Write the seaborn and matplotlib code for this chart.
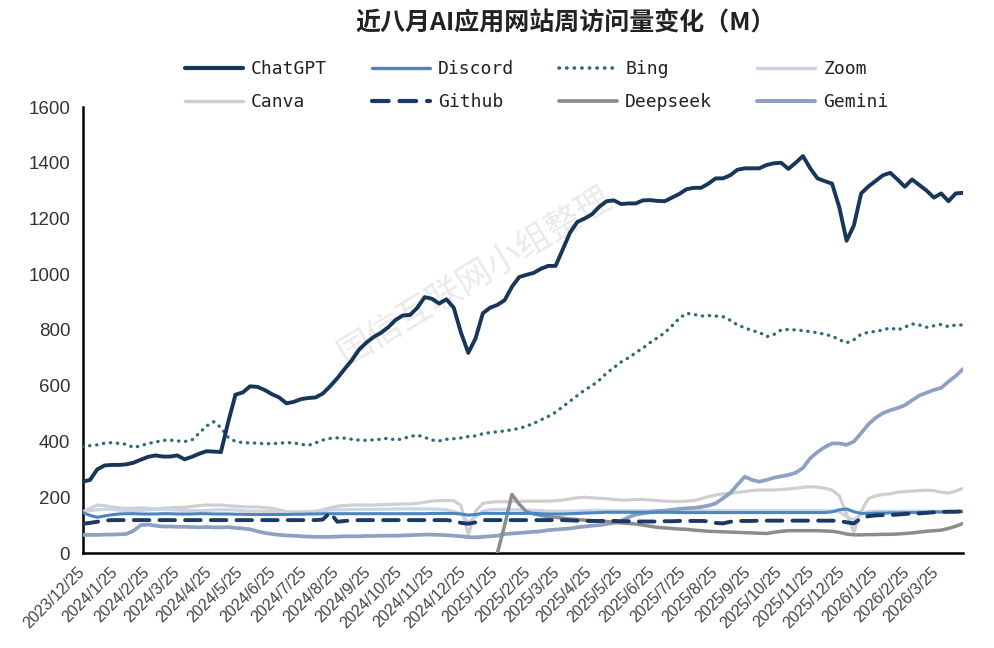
import numpy as np
import pandas as pd
import matplotlib
matplotlib.use('Agg')
import matplotlib.pyplot as plt
import matplotlib.transforms as mtransforms
import seaborn as sns
from matplotlib.lines import Line2D

# ---------------- data ----------------
start_date = '2023-12-25'   # weekly observations
tick_labels = ['2023/12/25', '2024/1/25', '2024/2/25', '2024/3/25', '2024/4/25', '2024/5/25',
               '2024/6/25', '2024/7/25', '2024/8/25', '2024/9/25', '2024/10/25', '2024/11/25',
               '2024/12/25', '2025/1/25', '2025/2/25', '2025/3/25', '2025/4/25', '2025/5/25',
               '2025/6/25', '2025/7/25', '2025/8/25', '2025/9/25', '2025/10/25', '2025/11/25',
               '2025/12/25', '2026/1/25', '2026/2/25', '2026/3/25']

chatgpt = [256, 262, 300, 314, 316, 316, 318, 324, 335, 345,
           350, 346, 346, 350, 336, 345, 356, 365, 364, 362,
           470, 568, 576, 598, 596, 585, 570, 558, 537, 542,
           552, 556, 558, 572, 598, 627, 660, 692, 730, 755,
           775, 790, 810, 836, 852, 854, 880, 918, 912, 895,
           910, 880, 790, 718, 770, 860, 880, 890, 907, 955,
           990, 998, 1005, 1020, 1030, 1030, 1090, 1150, 1188, 1200,
           1215, 1242, 1262, 1265, 1252, 1254, 1254, 1265, 1266, 1263,
           1262, 1275, 1288, 1305, 1310, 1310, 1325, 1344, 1344, 1355,
           1375, 1380, 1380, 1380, 1392, 1398, 1400, 1378, 1400, 1424,
           1380, 1344, 1334, 1325, 1240, 1120, 1175, 1290, 1315, 1335,
           1355, 1364, 1340, 1314, 1340, 1320, 1300, 1275, 1290, 1262,
           1290, 1292]

bing = [381, 385, 388, 394, 396, 393, 390, 378, 385, 393,
        398, 404, 405, 402, 400, 405, 430, 455, 471, 450,
        415, 400, 396, 395, 394, 392, 392, 394, 396, 395,
        390, 386, 395, 405, 411, 413, 412, 408, 405, 404,
        406, 408, 412, 405, 410, 418, 423, 415, 405, 402,
        408, 410, 413, 418, 420, 428, 432, 435, 438, 442,
        447, 455, 465, 478, 490, 505, 525, 545, 565, 585,
        600, 620, 645, 665, 685, 700, 718, 735, 755, 772,
        790, 815, 842, 860, 856, 850, 852, 850, 848, 835,
        818, 808, 798, 792, 776, 784, 800, 802, 800, 798,
        794, 790, 785, 778, 765, 754, 765, 785, 792, 795,
        800, 808, 800, 810, 822, 818, 810, 815, 820, 812,
        818, 818]

gemini = [65, 65, 65, 66, 66, 67, 68, 80, 100, 102,
          98, 95, 95, 94, 94, 93, 92, 93, 92, 92,
          93, 90, 88, 85, 78, 72, 68, 65, 63, 62,
          60, 59, 58, 58, 58, 59, 60, 60, 60, 61,
          61, 62, 62, 62, 63, 64, 65, 66, 66, 65,
          64, 62, 60, 57, 56, 58, 60, 62, 68, 70,
          72, 74, 76, 78, 82, 84, 86, 88, 92, 95,
          98, 100, 104, 108, 115, 128, 138, 142, 146, 150,
          152, 155, 158, 160, 162, 165, 170, 178, 196, 215,
          245, 274, 262, 256, 262, 270, 275, 280, 288, 305,
          340, 362, 380, 393, 393, 388, 400, 430, 462, 485,
          502, 512, 520, 530, 548, 565, 575, 585, 592, 615,
          635, 660]

deepseek = [np.nan] * 57 + [
    0, 100, 210, 175, 148, 140, 135, 130, 128, 125,
    122, 120, 118, 116, 115, 113, 110, 108, 106, 104,
    100, 96, 92, 90, 88, 86, 85, 82, 80, 78,
    77, 76, 75, 74, 73, 72, 71, 70, 74, 78,
    80, 80, 80, 80, 80, 79, 78, 74, 68, 65,
    65, 66, 66, 67, 67, 68, 70, 72, 75, 78,
    80, 82, 88, 96, 106]

zoom = [150, 152, 155, 157, 156, 154, 152, 150, 152, 155,
        156, 156, 155, 154, 153, 152, 152, 153, 154, 155,
        155, 154, 152, 150, 150, 150, 149, 148, 148, 148,
        148, 149, 150, 152, 154, 155, 155, 156, 156, 156,
        156, 157, 157, 158, 158, 158, 158, 158, 158, 157,
        155, 150, 140, 110, 130, 150, 155, 156, 156, 155,
        155, 154, 153, 152, 150, 150, 150, 150, 151, 152,
        153, 153, 152, 152, 152, 152, 152, 152, 152, 152,
        152, 152, 152, 152, 152, 152, 152, 152, 152, 152,
        152, 152, 152, 152, 152, 152, 152, 152, 152, 152,
        152, 152, 152, 150, 148, 130, 118, 140, 148, 150,
        150, 150, 150, 150, 150, 150, 150, 150, 150, 150,
        150, 152]

discord = [145, 135, 128, 133, 137, 140, 141, 141, 140, 140,
           140, 141, 141, 140, 140, 140, 141, 141, 140, 140,
           140, 139, 139, 138, 138, 138, 138, 138, 138, 139,
           139, 140, 140, 141, 141, 141, 141, 141, 141, 141,
           141, 141, 141, 141, 141, 141, 141, 141, 142, 142,
           142, 142, 140, 136, 138, 142, 142, 142, 142, 142,
           142, 142, 142, 141, 140, 140, 140, 141, 142, 143,
           144, 145, 146, 146, 146, 146, 146, 146, 146, 146,
           146, 146, 145, 145, 145, 145, 145, 145, 145, 145,
           145, 145, 145, 145, 145, 145, 145, 145, 145, 145,
           145, 145, 145, 148, 155, 158, 148, 142, 142, 143,
           143, 144, 144, 145, 145, 146, 146, 147, 147, 148,
           148, 148]

github = [105, 108, 112, 116, 118, 118, 118, 118, 118, 118,
          118, 118, 118, 118, 118, 118, 118, 118, 118, 118,
          118, 118, 118, 118, 118, 118, 118, 118, 118, 118,
          118, 118, 118, 120, 145, 112, 115, 117, 118, 118,
          118, 118, 118, 118, 118, 118, 118, 118, 118, 118,
          118, 115, 108, 105, 110, 118, 118, 118, 118, 118,
          118, 118, 118, 118, 118, 118, 118, 117, 116, 115,
          115, 115, 115, 115, 114, 114, 113, 113, 113, 113,
          114, 114, 115, 115, 115, 115, 114, 108, 106, 112,
          115, 115, 115, 116, 116, 116, 116, 116, 116, 116,
          116, 116, 116, 116, 115, 110, 106, 125, 132, 135,
          136, 136, 138, 140, 142, 142, 144, 146, 147, 148,
          148, 150]

canva = [148, 160, 172, 170, 165, 162, 160, 160, 162, 160,
         158, 160, 162, 163, 164, 167, 170, 172, 172, 172,
         170, 168, 166, 165, 165, 163, 160, 155, 148, 145,
         145, 146, 148, 155, 162, 168, 170, 172, 173, 172,
         172, 173, 174, 175, 176, 176, 178, 182, 186, 188,
         188, 188, 170, 65, 150, 178, 182, 184, 184, 185,
         185, 186, 186, 186, 186, 188, 190, 194, 198, 200,
         198, 196, 195, 192, 190, 190, 192, 192, 190, 188,
         186, 185, 185, 186, 188, 195, 202, 208, 212, 215,
         218, 220, 224, 226, 226, 226, 228, 230, 232, 236,
         238, 236, 232, 226, 205, 140, 75, 150, 195, 205,
         210, 212, 218, 220, 222, 224, 225, 224, 218, 215,
         222, 232]

series_names = ['ChatGPT', 'Discord', 'Bing', 'Zoom', 'Canva', 'Github', 'Deepseek', 'Gemini']
title_text = '近八月AI应用网站周访问量变化（M）'
watermark_text = '国信互联网小组整理'

# ---------------- frame ----------------
dates = pd.date_range(start_date, periods=len(chatgpt), freq='7D')
df = pd.DataFrame({'date': dates, 'ChatGPT': chatgpt, 'Discord': discord, 'Bing': bing,
                   'Zoom': zoom, 'Canva': canva, 'Github': github, 'Deepseek': deepseek,
                   'Gemini': gemini})
long = df.melt(id_vars='date', var_name='series', value_name='value')

styles = {
    'ChatGPT':  dict(color='#18365a', lw=2.8, ls='-', z=10),
    'Discord':  dict(color='#4a87c2', lw=2.2, ls='-', z=5),
    'Bing':     dict(color='#2f6b7c', lw=2.4, ls=(0, (0.1, 2.0)), z=9),
    'Zoom':     dict(color='#c9d4e4', lw=2.3, ls='-', z=3),
    'Canva':    dict(color='#cfcfcf', lw=2.3, ls='-', z=2),
    'Github':   dict(color='#1c3864', lw=2.8, ls=(0, (4, 2.6)), z=6),
    'Deepseek': dict(color='#8c8c8c', lw=2.5, ls='-', z=4),
    'Gemini':   dict(color='#8ea1c2', lw=2.7, ls='-', z=4),
}

sns.set_theme(style='white')
plt.rcParams['font.family'] = ['Liberation Sans', 'Noto Sans CJK SC', 'DejaVu Sans']

W, H = 995, 648
fig = plt.figure(figsize=(W / 100, H / 100), dpi=100)
fig.patch.set_facecolor('white')
ax = fig.add_axes([82.7 / W, 1 - 553 / H, (963 - 82.7) / W, (553 - 107) / H])

draw_order = ['Canva', 'Zoom', 'Gemini', 'Deepseek', 'Discord', 'Github', 'Bing', 'ChatGPT']
for name in draw_order:
    st = styles[name]
    sub = long[long['series'] == name]
    sns.lineplot(data=sub, x='date', y='value', ax=ax, color=st['color'], linewidth=st['lw'],
                 linestyle=st['ls'], legend=False, zorder=st['z'],
                 dash_capstyle='round', solid_capstyle='round', solid_joinstyle='round')

ax.set_ylim(0, 1600)
ax.set_yticks(np.arange(0, 1601, 200))
ax.set_xlim(dates[0], dates[-1])
tick_dates = pd.to_datetime(tick_labels, format='%Y/%m/%d')
ax.set_xticks(tick_dates)
ax.set_xticklabels(tick_labels, rotation=45, ha='right', va='center', rotation_mode='anchor',
                   fontsize=11.5, color='#444444')
shift = mtransforms.ScaledTranslation(5 / 100, -2 / 100, fig.dpi_scale_trans)
for lbl in ax.get_xticklabels():
    lbl.set_transform(lbl.get_transform() + shift)
ax.tick_params(axis='y', labelsize=13.5, colors='#333333', length=6, width=1.6, direction='out', pad=3)
ax.tick_params(axis='x', length=6, width=1.6, direction='out', pad=6, colors='#444444')
ax.tick_params(axis='both', which='both', color='black')
ax.set_xlabel('')
ax.set_ylabel('')
for side in ['top', 'right']:
    ax.spines[side].set_visible(False)
for side in ['left', 'bottom']:
    ax.spines[side].set_color('black')
    ax.spines[side].set_linewidth(1.8)
ax.grid(False)

# watermark
ax.text(0.445, 0.62, watermark_text, transform=ax.transAxes, rotation=31, fontsize=25,
        color='#e2e2e2', alpha=0.7, ha='center', va='center', zorder=1,
        family=['Noto Sans CJK SC', 'DejaVu Sans'])

# title
fig.text(566 / W, 1 - 23 / H, title_text, ha='center', va='center', fontsize=18,
         fontweight='bold', color='#222222', family=['Noto Sans CJK SC', 'DejaVu Sans'])

# legend (column-major order to reproduce the 2x4 row layout)
legend_order = ['ChatGPT', 'Canva', 'Discord', 'Github', 'Bing', 'Deepseek', 'Zoom', 'Gemini']
handles = []
for name in legend_order:
    st = styles[name]
    handles.append(Line2D([0], [0], color=st['color'], lw=st['lw'] + 0.2, linestyle=st['ls'],
                          dash_capstyle='round'))
fig.legend(handles, legend_order, loc='upper left', bbox_to_anchor=(185 / W, 1 - 60 / H),
           ncol=4, frameon=False, handlelength=3.2, handletextpad=0.45, columnspacing=2.5,
           labelspacing=0.85, borderpad=0, borderaxespad=0,
           prop={'family': 'DejaVu Sans Mono', 'size': 13}, labelcolor='#222222')

fig.savefig('out.png', dpi=100, facecolor='white')
